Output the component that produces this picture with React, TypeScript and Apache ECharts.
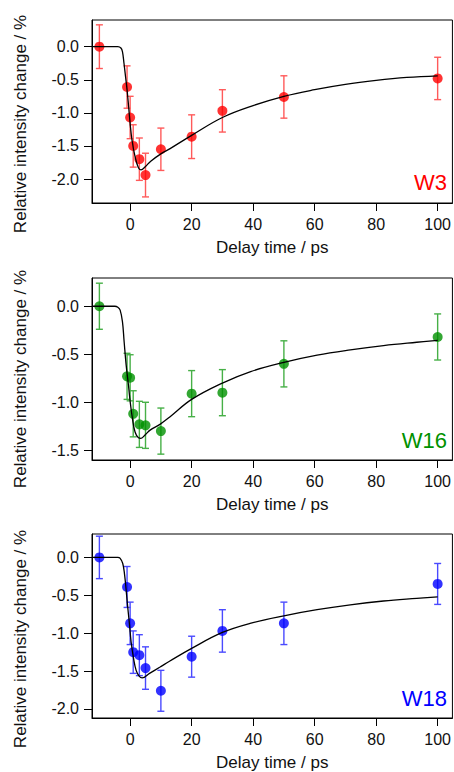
import React, { useEffect, useRef } from "react";
import * as echarts from "echarts";

// ---- data ----
const delays = [-10, -1, 0, 1, 3, 5, 10, 20, 30, 50, 100];
const xTicks = [0, 20, 40, 60, 80, 100];

const w3Values = [0, -0.61, -1.07, -1.5, -1.7, -1.94, -1.55, -1.36, -0.97, -0.76, -0.48];
const w3Errors = [0.33, 0.32, 0.32, 0.32, 0.32, 0.33, 0.32, 0.33, 0.32, 0.32, 0.32];
const w3FitX = [-12.4, -4, -3, -2.5, -2, -1.5, -1, -0.5, 0, 0.6, 1.6, 2.7, 3.5, 5, 6.7, 10, 13, 20, 30, 40, 50, 60, 70, 80, 90, 100];
const w3FitY = [0, 0, -0.02, -0.075, -0.25, -0.45, -0.65, -0.9, -1.16, -1.41, -1.66, -1.83, -1.86, -1.81, -1.73, -1.62, -1.54, -1.34, -1.07, -0.89, -0.75, -0.65, -0.57, -0.51, -0.465, -0.44];
const w3YTicks = [0, -0.5, -1, -1.5, -2];

const w16Values = [0, -0.73, -0.745, -1.12, -1.23, -1.24, -1.3, -0.91, -0.9, -0.6, -0.32];
const w16Errors = [0.24, 0.24, 0.24, 0.24, 0.24, 0.24, 0.24, 0.24, 0.24, 0.24, 0.24];
const w16FitX = [-12.4, -5, -4, -3.25, -2.5, -1.95, -1.3, -0.55, 0, 0.75, 1.6, 2.7, 3.5, 5, 6.5, 9.7, 13, 20, 30, 39.2, 50, 60.8, 71.6, 82.4, 93.2, 100];
const w16FitY = [0, 0, -0.01, -0.04, -0.16, -0.37, -0.61, -0.82, -0.99, -1.17, -1.31, -1.37, -1.375, -1.335, -1.29, -1.23, -1.15, -0.97, -0.8, -0.68, -0.585, -0.51, -0.455, -0.41, -0.375, -0.355];
const w16YTicks = [0, -0.5, -1, -1.5];

const w18Values = [0, -0.39, -0.87, -1.25, -1.29, -1.46, -1.76, -1.31, -0.97, -0.87, -0.35];
const w18Errors = [0.28, 0.27, 0.28, 0.28, 0.27, 0.28, 0.27, 0.27, 0.28, 0.28, 0.27];
const w18FitX = [-12.4, -4, -3.3, -2.4, -1.8, -1.3, -0.8, -0.2, 0.3, 1.1, 1.95, 3, 3.9, 6.3, 9.6, 12.8, 20, 30, 39, 50, 60.8, 71.6, 82.4, 93.2, 100];
const w18FitY = [0, 0, -0.01, -0.08, -0.23, -0.43, -0.65, -0.89, -1.11, -1.33, -1.49, -1.57, -1.59, -1.53, -1.45, -1.37, -1.2, -0.99, -0.87, -0.77, -0.69, -0.625, -0.575, -0.54, -0.52];
const w18YTicks = [0, -0.5, -1, -1.5, -2];

const panelNames = ["W3", "W16", "W18"];
const xAxisTitle = "Delay time / ps";
const yAxisTitle = "Relative intensity change / %";

// ---- layout / style ----
const FONT = "'Liberation Sans', Arial, Helvetica, sans-serif";
const layouts = [
  { top: 20, height: 183, yMin: -2.362, yMax: 0.403, nameY: 124, labelBaseline: 193 },
  { top: 278, height: 182, yMin: -1.601, yMax: 0.294, nameY: 379, labelBaseline: 451 },
  { top: 534, height: 184, yMin: -2.119, yMax: 0.309, nameY: 639, labelBaseline: 709 },
];
const colors = [
  { dot: "#ff0000", bar: "#ff5a5a" },
  { dot: "#009100", bar: "#47b047" },
  { dot: "#0000ff", bar: "#4a4aff" },
];

function buildOption() {
  const panels = [
    { values: w3Values, errors: w3Errors, fitX: w3FitX, fitY: w3FitY, yTicks: w3YTicks },
    { values: w16Values, errors: w16Errors, fitX: w16FitX, fitY: w16FitY, yTicks: w16YTicks },
    { values: w18Values, errors: w18Errors, fitX: w18FitX, fitY: w18FitY, yTicks: w18YTicks },
  ];

  const grid: any[] = [];
  const xAxis: any[] = [];
  const yAxis: any[] = [];
  const series: any[] = [];
  const graphic: any[] = [];

  panels.forEach((p, i) => {
    const L = layouts[i];
    const c = colors[i];
    grid.push({
      left: 92,
      width: 361,
      top: L.top,
      height: L.height,
      show: true,
      borderColor: "#000",
      borderWidth: 1,
      backgroundColor: "transparent",
    });
    xAxis.push({
      type: "value",
      gridIndex: i,
      min: -12.4,
      max: 104.8,
      name: xAxisTitle,
      nameLocation: "middle",
      nameGap: 36,
      nameTextStyle: { fontFamily: FONT, fontSize: 17, color: "#111" },
      axisLine: { show: true, onZero: false, lineStyle: { color: "#000", width: 1 } },
      axisTick: { show: true, length: 8, inside: false, customValues: xTicks, lineStyle: { color: "#000", width: 1 } },
      axisLabel: {
        customValues: xTicks,
        margin: 13,
        fontFamily: FONT,
        fontSize: 16,
        color: "#111",
        formatter: (v: number) => String(v),
      },
      splitLine: { show: false },
    });
    yAxis.push({
      type: "value",
      gridIndex: i,
      min: L.yMin,
      max: L.yMax,
      axisLine: { show: true, onZero: false, lineStyle: { color: "#000", width: 1 } },
      axisTick: { show: true, length: 8, inside: false, customValues: p.yTicks, lineStyle: { color: "#000", width: 1 } },
      axisLabel: {
        customValues: p.yTicks,
        margin: 13,
        fontFamily: FONT,
        fontSize: 16,
        color: "#111",
        formatter: (v: number) => v.toFixed(1),
      },
      splitLine: { show: false },
    });

    series.push({
      type: "custom",
      xAxisIndex: i,
      yAxisIndex: i,
      z: 2,
      encode: { x: 0, y: [1, 2] },
      data: delays.map((d, k) => [d, p.values[k] - p.errors[k], p.values[k] + p.errors[k]]),
      renderItem: (params: any, api: any) => {
        const x = api.value(0);
        const lo = api.coord([x, api.value(1)]);
        const hi = api.coord([x, api.value(2)]);
        const cap = 3.5;
        const style = { stroke: c.bar, lineWidth: 1.4 };
        return {
          type: "group",
          children: [
            { type: "line", shape: { x1: lo[0], y1: lo[1], x2: hi[0], y2: hi[1] }, style },
            { type: "line", shape: { x1: lo[0] - cap, y1: lo[1], x2: lo[0] + cap, y2: lo[1] }, style },
            { type: "line", shape: { x1: hi[0] - cap, y1: hi[1], x2: hi[0] + cap, y2: hi[1] }, style },
          ],
        };
      },
    });
    series.push({
      type: "scatter",
      xAxisIndex: i,
      yAxisIndex: i,
      z: 3,
      symbol: "circle",
      symbolSize: 10,
      itemStyle: { color: c.dot },
      data: delays.map((d, k) => [d, p.values[k]]),
    });
    series.push({
      type: "line",
      xAxisIndex: i,
      yAxisIndex: i,
      z: 4,
      showSymbol: false,
      smooth: 0.4,
      lineStyle: { color: "#000", width: 1.3 },
      data: p.fitX.map((x, k) => [x, p.fitY[k]]),
    });

    graphic.push({
      type: "text",
      x: 20.5,
      y: L.nameY,
      rotation: Math.PI / 2,
      style: {
        text: yAxisTitle,
        fontFamily: FONT,
        fontSize: 17,
        fill: "#111",
        textAlign: "center",
        textVerticalAlign: "middle",
      },
    });
    graphic.push({
      type: "text",
      x: 447,
      y: L.labelBaseline,
      style: {
        text: panelNames[i],
        fontFamily: FONT,
        fontSize: 22,
        fill: c.dot,
        textAlign: "right",
        textVerticalAlign: "bottom",
      },
    });
  });

  return {
    animation: false,
    backgroundColor: "#fff",
    grid,
    xAxis,
    yAxis,
    series,
    graphic,
  };
}

export default function App() {
  const ref = useRef<HTMLDivElement>(null);
  useEffect(() => {
    const chart = echarts.init(ref.current!, null, { renderer: "svg" });
    chart.setOption(buildOption() as any);
    return () => chart.dispose();
  }, []);
  return (
    <div
      ref={ref}
      style={{ position: "absolute", left: 0, top: 0, width: 454, height: 772 }}
    />
  );
}
